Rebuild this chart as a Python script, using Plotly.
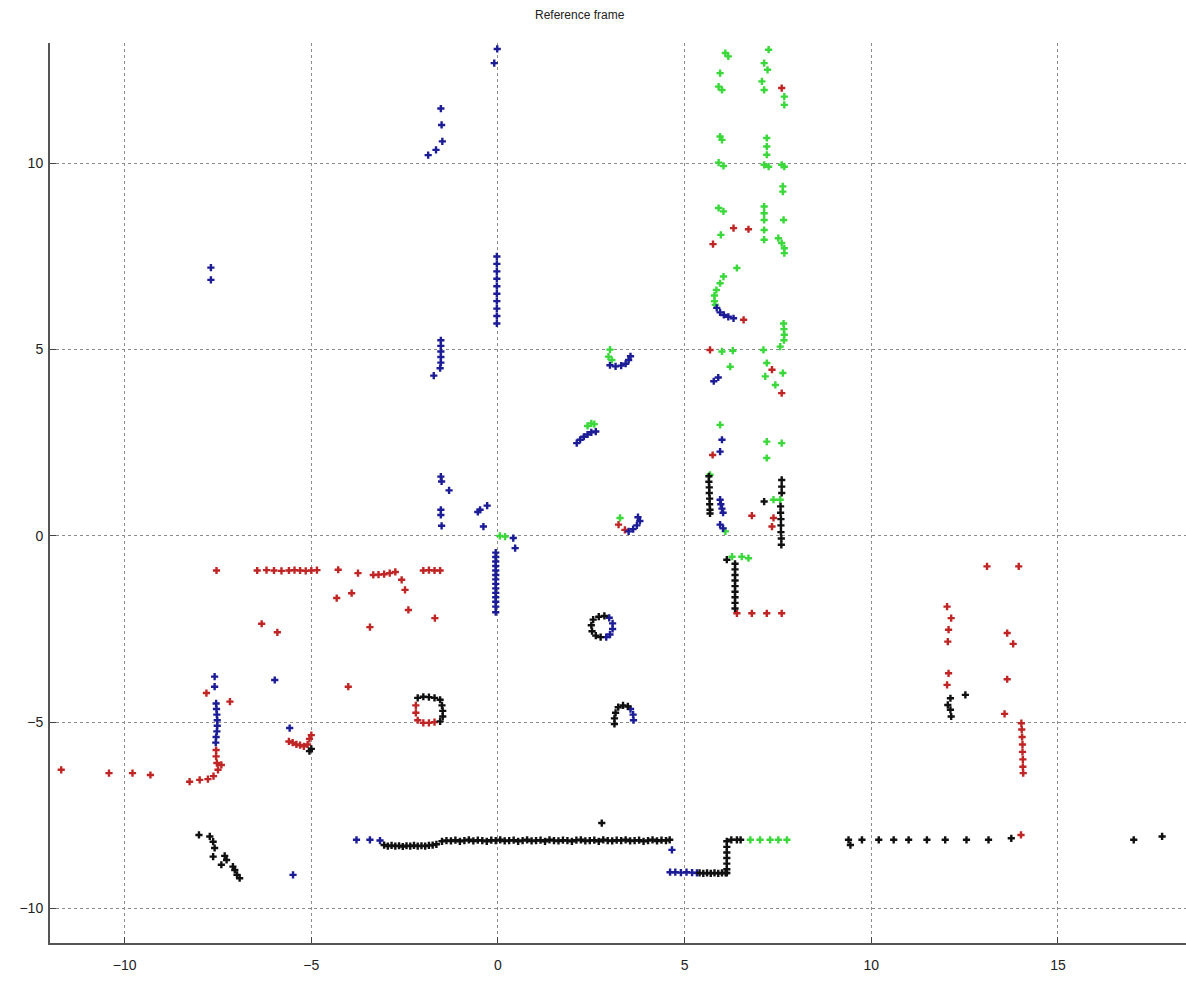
import plotly.graph_objects as go

# ---------------- data ----------------
blue_x = [-0.02, -0.1,
          -1.53, -1.51, -1.49, -1.66, -1.87,
          -7.69, -7.69,
          -0.03, -0.03, -0.03, -0.03, -0.03, -0.03, -0.03, -0.03, -0.03, -0.03,
          -1.53, -1.53, -1.53, -1.53, -1.53, -1.55, -1.72,
          -1.53, -1.51, -1.31, -1.53, -1.53, -1.51,
          -0.48, -0.29, -0.39, -0.54,
          0.41, 0.46,
          -0.06, -0.06, -0.06, -0.06, -0.06, -0.06, -0.06, -0.06, -0.06, -0.06, -0.06, -0.06, -0.06, -0.06,
          2.11, 2.2, 2.3, 2.4, 2.5, 2.62,
          3.0, 3.15, 3.3, 3.42, 3.5, 3.55,
          3.5, 3.62, 3.72, 3.8, 3.75,
          5.86, 5.95, 6.05, 6.17, 6.31,
          5.78, 5.9,
          6.0, 5.95,
          5.95, 5.97, 6.0, 6.03, 5.95, 6.03,
          -5.98, -5.58,
          -7.59, -7.59,
          -7.55, -7.54, -7.53, -7.52, -7.52, -7.53, -7.55, -7.56,
          -3.79, -3.43, -3.16,
          -5.49,
          4.61, 4.75, 4.9, 5.05, 5.2, 5.33, 4.66,
          2.98, 3.07, 3.07, 3.0, 2.9,
          3.55, 3.62, 3.63]
blue_y = [13.07, 12.69,
          11.47, 11.03, 10.59, 10.36, 10.22,
          7.2, 6.87,
          7.5, 7.3, 7.1, 6.9, 6.7, 6.5, 6.3, 6.1, 5.9, 5.7,
          5.25, 5.1, 4.95, 4.8, 4.65, 4.5, 4.3,
          1.59, 1.46, 1.22, 0.70, 0.56, 0.27,
          0.70, 0.81, 0.25, 0.64,
          -0.06, -0.33,
          -0.45, -0.57, -0.69, -0.81, -0.93, -1.05, -1.17, -1.29, -1.41, -1.53, -1.65, -1.77, -1.9, -2.05,
          2.49, 2.58, 2.66, 2.72, 2.78, 2.8,
          4.58, 4.55, 4.57, 4.62, 4.72, 4.82,
          0.12, 0.18, 0.28, 0.4, 0.5,
          6.12, 6.0, 5.93, 5.88, 5.84,
          4.15, 4.25,
          2.58, 2.26,
          0.97, 0.85, 0.73, 0.62, 0.3, 0.2,
          -3.87, -5.16,
          -3.78, -4.05,
          -4.5, -4.65, -4.8, -4.95, -5.1, -5.25, -5.4, -5.55,
          -8.16, -8.16, -8.18,
          -9.10,
          -9.03, -9.03, -9.04, -9.03, -9.04, -9.05, -8.43,
          -2.2, -2.35, -2.5, -2.65, -2.72,
          -4.65, -4.8, -4.95]

red_x = [7.6, 6.31, 6.71, 5.76, 6.58,
         5.68, 7.34, 7.6, 5.75,
         6.8, 7.38, 7.34,
         6.4, 6.8, 7.2, 7.6,
         3.23, 3.40,
         -7.54, -6.45, -6.2, -6.0, -5.8, -5.6, -5.45, -5.3, -5.15, -5.0, -4.85,
         -4.28, -3.75, -3.34, -3.2, -3.05, -2.9, -2.75, -2.0, -1.85, -1.7, -1.55,
         -2.58, -2.49, -2.4, -1.69, -4.32, -3.92, -3.43, -6.33, -5.91,
         -4.01,
         -7.81, -7.18,
         -7.55, -7.55, -7.53, -7.5, -7.41,
         -8.26, -7.99, -7.77, -7.62,
         -11.7, -10.42, -9.79, -9.31,
         -5.6, -5.5, -5.4, -5.3, -5.2, -5.1, -5.05, -5.0,
         -2.2, -2.2, -2.15, -2.0, -1.85, -1.7,
         13.1, 13.95, 12.03, 12.14, 12.07, 12.05, 12.07, 12.03, 13.64, 13.8, 13.64, 13.57, 14.01,
         14.02, 14.03, 14.04, 14.05, 14.05, 14.06, 14.06, 14.07]
red_y = [12.02, 8.26, 8.23, 7.83, 5.8,
         4.99, 4.46, 3.83, 2.17,
         0.54, 0.48, 0.25,
         -2.08, -2.08, -2.08, -2.08,
         0.30, 0.16,
         -0.93, -0.93, -0.92, -0.93, -0.94, -0.93, -0.92, -0.93, -0.94, -0.93, -0.92,
         -0.91, -1.0, -1.05, -1.04, -1.03, -1.0, -0.97, -0.93, -0.92, -0.93, -0.93,
         -1.18, -1.45, -1.99, -2.21, -1.67, -1.54, -2.45, -2.36, -2.59,
         -4.05,
         -4.22, -4.45,
         -5.75, -5.92, -6.1, -6.28, -6.15,
         -6.6, -6.55, -6.53, -6.45,
         -6.28, -6.37, -6.37, -6.42,
         -5.52, -5.55, -5.6, -5.62, -5.65, -5.6, -5.45, -5.35,
         -4.55, -4.75, -4.95, -5.02, -5.02, -5.0,
         -0.82, -0.82, -1.9, -2.21, -2.52, -2.84, -3.69, -4.0, -2.61, -2.9, -3.85, -4.78, -8.03,
         -5.03, -5.2, -5.4, -5.6, -5.8, -6.0, -6.2, -6.37]

green_x = [6.09, 6.17, 5.95, 5.91, 6.0, 5.95, 6.0, 5.91, 6.04, 5.91, 6.04, 5.97, 6.4, 6.04, 5.95,
           5.85, 5.8, 5.8, 5.82,
           7.25, 7.13, 7.22, 7.07, 7.13, 7.2, 7.2, 7.2, 7.13, 7.25, 7.13, 7.13, 7.13, 7.13, 7.13,
           7.67, 7.67, 7.6, 7.67, 7.63, 7.63, 7.65, 7.51, 7.6, 7.67, 7.67,
           7.65, 7.66, 7.67, 7.66, 7.56,
           6.0, 6.29, 6.22, 7.11, 7.2, 7.16, 7.43, 7.63,
           5.95, 7.2, 7.6, 7.2,
           5.68, 6.09, 7.38, 7.56,
           6.27, 6.53, 6.71,
           6.76, 7.02, 7.29, 7.51, 7.74,
           2.4, 2.5, 2.58,
           3.0, 2.96, 3.05,
           3.27,
           0.19, 0.05]
green_y = [12.96, 12.87, 12.42, 12.06, 11.97, 10.72, 10.63, 10.02, 9.93, 8.8, 8.71, 8.08, 7.19, 6.96, 6.78,
           6.6, 6.45, 6.3, 6.2,
           13.05, 12.69, 12.51, 12.2, 11.97, 10.68, 10.45, 10.23, 9.96, 9.91, 8.84, 8.66, 8.48, 8.21, 7.95,
           11.79, 11.57, 9.96, 9.91, 9.38, 9.24, 8.48, 7.99, 7.86, 7.72, 7.59,
           5.7, 5.55, 5.4, 5.25, 5.08,
           4.95, 4.97, 4.54, 4.99, 4.64, 4.28, 4.05, 4.37,
           2.98, 2.53, 2.49, 2.09,
           1.64, 0.12, 0.97, 0.97,
           -0.56, -0.56, -0.6,
           -8.16, -8.16, -8.16, -8.16, -8.16,
           2.95, 3.02, 3.0,
           5.0, 4.81, 4.72,
           0.48,
           -0.02, 0.0]

black_x = [5.65, 5.65, 5.66, 5.66, 5.67, 5.67, 5.68, 5.68,
           7.6, 7.6, 7.6, 7.13,
           7.57, 7.57, 7.58, 7.58, 7.58, 7.59, 7.59,
           6.13, 6.35, 6.35, 6.35, 6.35, 6.35, 6.35, 6.35, 6.35, 6.35,
           -2.15, -2.0, -1.85, -1.7, -1.55, -1.5, -1.48, -1.48, -1.55,
           -5.0, -5.05,
           2.55, 2.5, 2.52, 2.62, 2.75, 2.7, 2.85,
           3.12, 3.12, 3.15, 3.22, 3.35, 3.48,
           -8.01, -7.72, -7.63, -7.59, -7.63, -7.32, -7.27, -7.41, -7.1, -7.05, -6.99, -6.92,
           -3.05, -2.95, -2.85, -2.75, -2.65, -2.55, -2.45, -2.35, -2.25, -2.15, -2.05, -1.95, -1.85, -1.75, -1.65,
           -1.5, -1.38, -1.26, -1.14, -1.02, -0.9, -0.78, -0.66, -0.54, -0.42, -0.3, -0.18, -0.06,
           0.06, 0.18, 0.3, 0.42, 0.54, 0.66, 0.78, 0.9, 1.02, 1.14, 1.26, 1.38, 1.5, 1.62, 1.74,
           1.86, 1.98, 2.1, 2.22, 2.34, 2.46, 2.58, 2.7, 2.82, 2.94, 3.06, 3.18, 3.3, 3.42, 3.54,
           3.66, 3.78, 3.9, 4.02, 4.14, 4.26, 4.38, 4.5, 4.6,
           5.4, 5.5, 5.6, 5.7, 5.8, 5.9, 6.0, 6.1,
           6.13, 6.13, 6.13, 6.13, 6.13, 6.13, 6.13, 6.25, 6.4, 6.5,
           2.78,
           9.39, 9.44, 9.75, 10.2, 10.6, 11.0, 11.49, 11.98, 12.55, 13.14, 13.75, 17.03, 17.79,
           12.12, 12.05, 12.12, 12.14, 12.52]
black_y = [1.6, 1.45, 1.3, 1.15, 1.0, 0.85, 0.7, 0.6,
           1.5, 1.32, 1.15, 0.92,
           0.79, 0.62, 0.45, 0.28, 0.1, -0.07, -0.24,
           -0.64, -0.75, -0.9, -1.05, -1.2, -1.35, -1.5, -1.65, -1.8, -1.95,
           -4.35, -4.32, -4.33, -4.35, -4.4, -4.55, -4.7, -4.85, -4.98,
           -5.72, -5.78,
           -2.25, -2.4, -2.56, -2.68, -2.72, -2.17, -2.15,
           -5.05, -4.9, -4.75, -4.6, -4.55, -4.58,
           -8.03, -8.07, -8.21, -8.38, -8.61, -8.59, -8.70, -8.83, -8.88, -8.97, -9.10, -9.19,
           -8.30, -8.33, -8.31, -8.33, -8.32, -8.34, -8.32, -8.33, -8.31, -8.33, -8.32, -8.33, -8.31, -8.30, -8.28,
           -8.2, -8.18, -8.19, -8.17, -8.2, -8.18, -8.16, -8.19, -8.17, -8.18, -8.2, -8.17, -8.18,
           -8.16, -8.19, -8.18, -8.17, -8.2, -8.18, -8.16, -8.19, -8.18, -8.17, -8.2, -8.16, -8.18, -8.19, -8.17,
           -8.18, -8.2, -8.17, -8.16, -8.19, -8.18, -8.17, -8.2, -8.16, -8.18, -8.19, -8.17, -8.18, -8.16, -8.19,
           -8.18, -8.17, -8.2, -8.18, -8.16, -8.19, -8.17, -8.18, -8.16,
           -9.05, -9.06, -9.05, -9.06, -9.05, -9.06, -9.05, -9.05,
           -8.2, -8.35, -8.5, -8.65, -8.8, -8.95, -9.05, -8.16, -8.16, -8.16,
           -7.71,
           -8.16, -8.3, -8.16, -8.16, -8.16, -8.16, -8.16, -8.16, -8.16, -8.16, -8.12, -8.16, -8.07,
           -4.36, -4.54, -4.67, -4.85, -4.27]

x_ticks = [-10, -5, 0, 5, 10, 15]
y_ticks = [-10, -5, 0, 5, 10]
title_text = "Reference frame"

# ---------------- figure ----------------
fig = go.Figure()
series = [
    (red_x, red_y, "#c02525"),
    (green_x, green_y, "#3ad83a"),
    (blue_x, blue_y, "#1c1c96"),
    (black_x, black_y, "#101010"),
]
for xs, ys, col in series:
    fig.add_trace(go.Scatter(
        x=xs, y=ys, mode="markers",
        marker=dict(symbol="cross", size=6, color=col, line=dict(width=0)),
        showlegend=False, hoverinfo="skip"))

axis_common = dict(
    showgrid=True, gridcolor="#8c8c8c", gridwidth=1, griddash="dot",
    zeroline=False, showline=True, linecolor="#555555", linewidth=2,
    ticks="inside", ticklen=6, tickcolor="#444444",
    tickfont=dict(family="Liberation Sans, Arial, sans-serif", size=14, color="#222222"),
    mirror=False,
)
fig.update_xaxes(range=[-12, 18.43], tickvals=x_ticks, ticklabelstandoff=8, **axis_common)
fig.update_yaxes(range=[-10.93, 13.23], tickvals=y_ticks, ticklabelstandoff=2, **axis_common)

fig.add_annotation(
    text=title_text, xref="paper", yref="paper", x=0.4665, y=1.031,
    xanchor="center", yanchor="middle", showarrow=False,
    font=dict(family="Liberation Sans, Arial, sans-serif", size=12, color="#222222"))

fig.update_layout(
    width=1186, height=982,
    margin=dict(l=50, r=0, t=43, b=39),
    paper_bgcolor="white", plot_bgcolor="white",
)
fig.write_html("out.html")
